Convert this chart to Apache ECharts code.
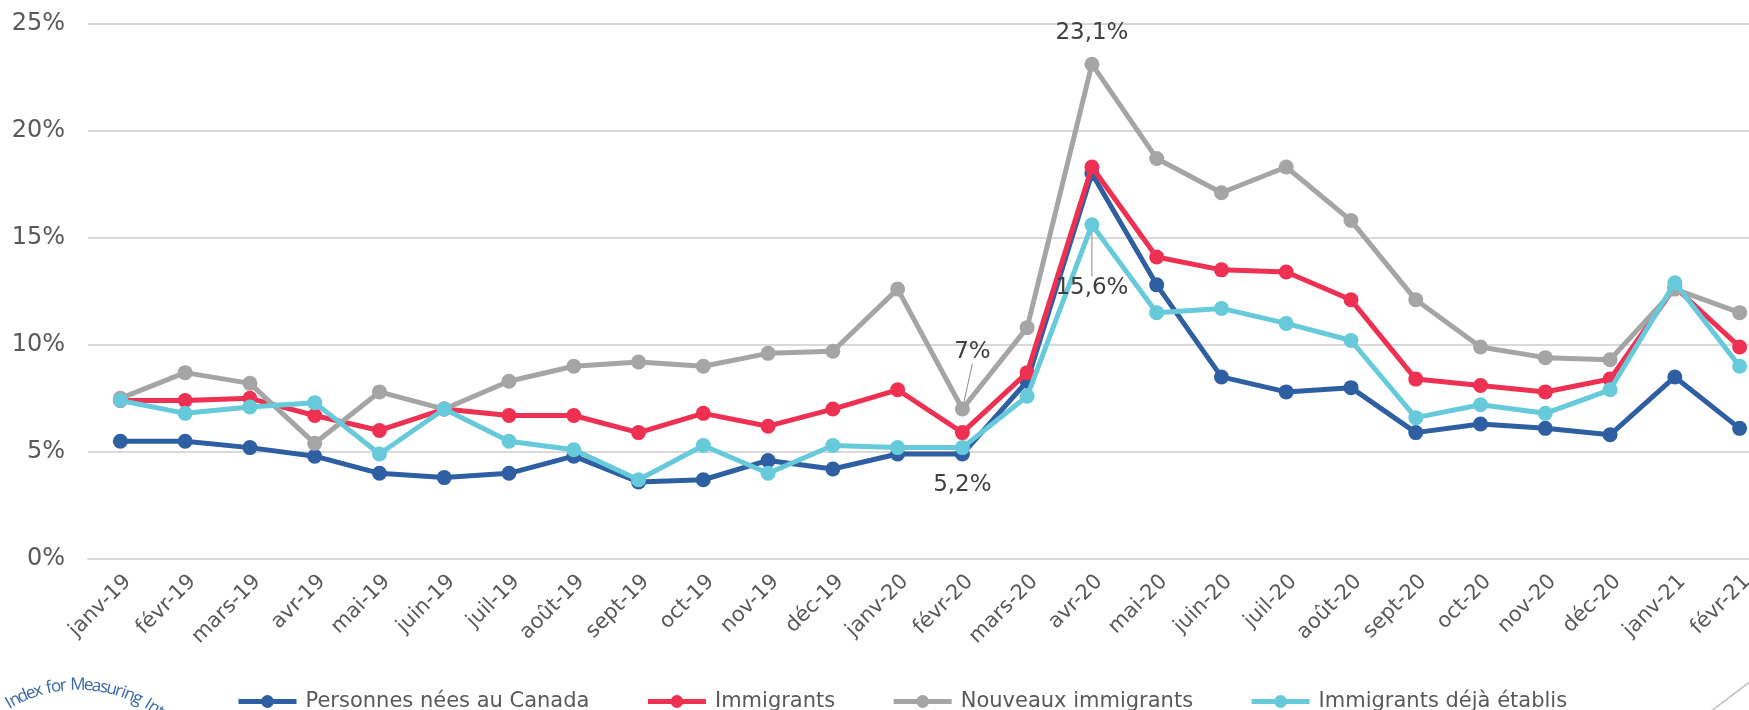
<!DOCTYPE html>
<html>
<head>
<meta charset="utf-8">
<script src="https://cdn.jsdelivr.net/npm/echarts@6/dist/echarts.min.js"></script>
<style>
  html, body { margin: 0; padding: 0; background: #ffffff; }
  #chart { width: 1749px; height: 710px; }
</style>
</head>
<body>
<div id="chart"></div>
<script>
// ---------- Data ----------
const categories = ['janv-19','févr-19','mars-19','avr-19','mai-19','juin-19','juil-19','août-19','sept-19','oct-19','nov-19','déc-19',
  'janv-20','févr-20','mars-20','avr-20','mai-20','juin-20','juil-20','août-20','sept-20','oct-20','nov-20','déc-20','janv-21','févr-21'];

const nesAuCanada = [5.5,5.5,5.2,4.8,4.0,3.8,4.0,4.8,3.6,3.7,4.6,4.2,4.9,4.9,8.3,18.0,12.8,8.5,7.8,8.0,5.9,6.3,6.1,5.8,8.5,6.1];
const immigrants = [7.4,7.4,7.5,6.7,6.0,7.0,6.7,6.7,5.9,6.8,6.2,7.0,7.9,5.9,8.7,18.3,14.1,13.5,13.4,12.1,8.4,8.1,7.8,8.4,12.7,9.9];
const nouveauxImmigrants = [7.5,8.7,8.2,5.4,7.8,7.0,8.3,9.0,9.2,9.0,9.6,9.7,12.6,7.0,10.8,23.1,18.7,17.1,18.3,15.8,12.1,9.9,9.4,9.3,12.6,11.5];
const immigrantsEtablis = [7.4,6.8,7.1,7.3,4.9,7.0,5.5,5.1,3.7,5.3,4.0,5.3,5.2,5.2,7.6,15.6,11.5,11.7,11.0,10.2,6.6,7.2,6.8,7.9,12.9,9.0];

const seriesNames = ['Personnes nées au Canada','Immigrants','Nouveaux immigrants','Immigrants déjà établis'];
const yTicks = [0, 5, 10, 15, 20, 25];

// data labels shown: [seriesIndex, dataIndex, text]
const annotations = [
  [2, 15, '23,1%'],
  [3, 15, '15,6%'],
  [2, 13, '7%'],
  [3, 13, '5,2%']
];

// ---------- Styling ----------
const FONT = 'DejaVu Sans';
const colors = ['#2D5FA2', '#EE3152', '#A5A5A5', '#66CADB'];
const labelStyles = {
  '2-15': { position: 'top', distance: 12 },
  '3-15': { position: 'bottom', distance: 4, dy: 40, line: true },
  '2-13': { position: 'top', distance: 4, dx: 10, dy: -34, line: true },
  '3-13': { position: 'bottom', distance: 18 }
};

const allData = [nesAuCanada, immigrants, nouveauxImmigrants, immigrantsEtablis];

function buildData(si) {
  return allData[si].map((v, di) => {
    const ann = annotations.find(a => a[0] === si && a[1] === di);
    if (!ann) return v;
    const st = labelStyles[si + '-' + di];
    return {
      value: v,
      label: {
        show: true,
        formatter: ann[2],
        position: st.position,
        distance: st.distance,
        color: '#404040',
        fontFamily: FONT,
        fontSize: 23
      },
      labelLine: st.line ? { show: true, lineStyle: { color: '#8c8c8c', width: 1 } } : { show: false }
    };
  });
}

const series = seriesNames.map((name, si) => ({
  name: name,
  type: 'line',
  data: buildData(si),
  symbol: 'circle',
  symbolSize: 15,
  showAllSymbol: true,
  lineStyle: { color: colors[si], width: 5 },
  itemStyle: { color: colors[si] },
  emphasis: { disabled: true },
  z: 2 + si,
  labelLayout: function (params) {
    const st = labelStyles[si + '-' + params.dataIndex];
    if (!st) return {};
    return { dx: st.dx || 0, dy: st.dy || 0 };
  },
  labelLine: { show: false }
}));

// decorative curved logo text (bottom-left)
const logoText = 'Index for Measuring Integration';
const logoGraphics = [];
(function () {
  const cx = 78, cy = 823, R = 138;
  let s = -75;
  const k = 1.08;
  const adv = { 'I': 5, ' ': 4.5, 'i': 4, 'f': 5, 'r': 5.5, 'M': 12.5, 'm': 12, 'n': 8, 'g': 8, 'u': 8, 's': 6.5, 'a': 7.5, 'e': 7.5, 'o': 8, 'x': 7, 'd': 8, 't': 5 };
  for (const ch of logoText) {
    const w = (adv[ch] || 7.5) * k;
    const theta = (s + w / 2) / R;
    logoGraphics.push({
      type: 'text',
      x: cx + R * Math.sin(theta),
      y: cy - R * Math.cos(theta),
      rotation: -theta,
      style: { text: ch, fill: '#3767A8', font: '17px "Open Sans"', textAlign: 'center', textVerticalAlign: 'middle' },
      silent: true
    });
    s += w;
  }
})();

const chart = echarts.init(document.getElementById('chart'), null, { renderer: 'canvas' });
chart.setOption({
  animation: false,
  backgroundColor: '#ffffff',
  color: colors,
  textStyle: { fontFamily: FONT },
  grid: { left: 88, right: -23, top: 23.5, bottom: 151, containLabel: false, outerBoundsMode: 'none' },
  legend: {
    data: seriesNames,
    left: 231,
    top: 686,
    itemWidth: 58,
    itemHeight: 16,
    itemGap: 56,
    lineStyle: { width: 5 },
    textStyle: { color: '#595959', fontSize: 21, fontFamily: FONT, padding: [0, 0, 0, 4] }
  },
  xAxis: {
    type: 'category',
    data: categories,
    boundaryGap: true,
    axisLine: { show: true, lineStyle: { color: '#d9d9d9', width: 2 } },
    axisTick: { show: false },
    axisLabel: { rotate: 45, color: '#595959', fontSize: 21, fontFamily: FONT, margin: 12, interval: 0, align: 'right', verticalAlign: 'top' },
    splitLine: { show: false }
  },
  yAxis: {
    type: 'value',
    min: yTicks[0],
    max: yTicks[yTicks.length - 1],
    interval: 5,
    axisLine: { show: false },
    axisTick: { show: false },
    axisLabel: { formatter: '{value}%', color: '#595959', fontSize: 24, fontFamily: FONT, margin: 23 },
    splitLine: { lineStyle: { color: '#d9d9d9', width: 2 } }
  },
  graphic: logoGraphics.concat([
    { type: 'line', shape: { x1: 1710, y1: 712, x2: 1751, y2: 681 }, style: { stroke: '#bfbfbf', lineWidth: 1.5 }, silent: true }
  ]),
  series: series
});
</script>
</body>
</html>
